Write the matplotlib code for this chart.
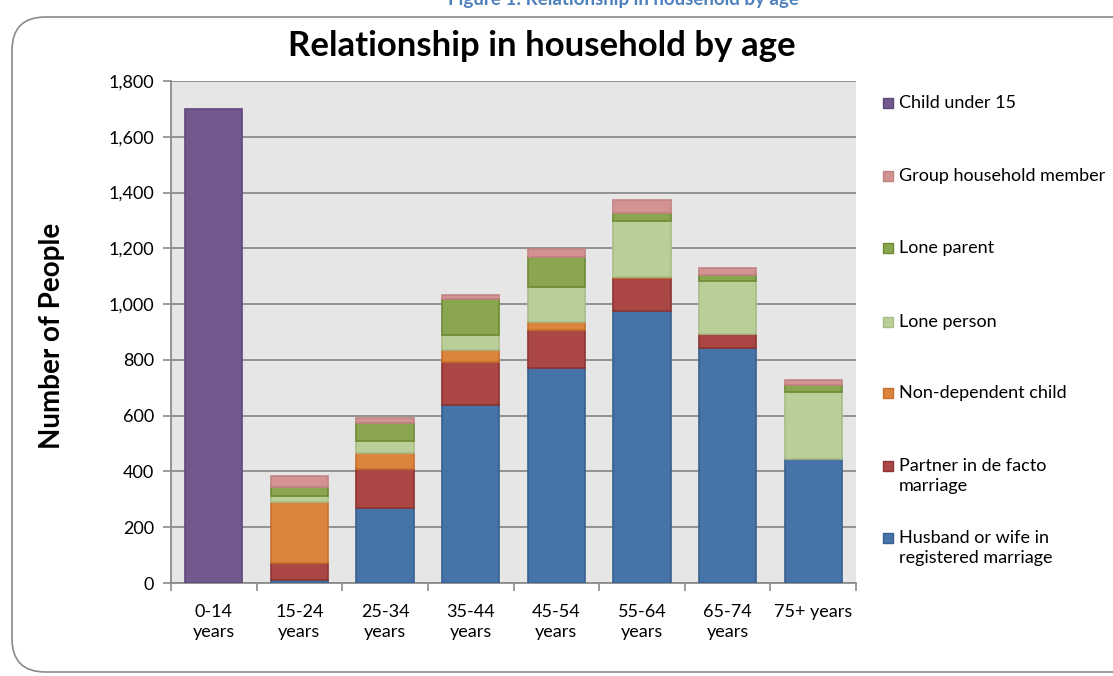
import numpy as np
import matplotlib.pyplot as plt
from matplotlib.patches import FancyBboxPatch, Rectangle

# data
ages = ['0-14\nyears', '15-24\nyears', '25-34\nyears', '35-44\nyears', '45-54\nyears',
        '55-64\nyears', '65-74\nyears', '75+ years']

husband_wife = [0, 10, 268, 640, 770, 974, 844, 443]
partner_defacto = [0, 60, 139, 152, 136, 118, 48, 3]
non_dependent = [0, 220, 60, 42, 30, 5, 0, 0]
lone_person = [0, 22, 43, 54, 124, 201, 190, 239]
lone_parent = [0, 32, 65, 130, 108, 28, 21, 24]
group_member = [0, 39, 18, 13, 30, 49, 25, 18]
child_under15 = [1700, 0, 0, 0, 0, 0, 0, 0]

series = [husband_wife, partner_defacto, non_dependent, lone_person,
          lone_parent, group_member, child_under15]
names = ['Husband or wife in\nregistered marriage', 'Partner in de facto\nmarriage',
         'Non-dependent child', 'Lone person', 'Lone parent',
         'Group household member', 'Child under 15']
fills = ['#4673A8', '#AA4644', '#DB843D', '#BACE97', '#8AA64E', '#D39393', '#71588F']
edges = ['#38608F', '#8C3432', '#C8702C', '#A9BC88', '#6E8A36', '#C28383', '#5E487A']

plt.rcParams['font.family'] = ['Lato', 'DejaVu Sans']

fig = plt.figure(figsize=(11.13, 6.76), dpi=100)
W, H = 1113.0, 676.0

# outer rounded frame, runs off the right edge like the reference
frame = FancyBboxPatch((12 / W, 4 / H), 1140 / W, 655 / H,
                       boxstyle='round,pad=0,rounding_size=0.03',
                       transform=fig.transFigure, fill=False,
                       edgecolor='#8a8a8a', linewidth=1.2, mutation_aspect=W / H)
fig.patches.append(frame)

fig.text(623 / W, 1.0, 'Figure 1: Relationship in household by age', ha='center',
         va='center', fontsize=13.5, fontweight='bold', color='#4F81BD')
fig.text(542 / W, 1 - 46 / H, 'Relationship in household by age', ha='center',
         va='center', fontsize=25, fontweight='bold', color='black')

ax = fig.add_axes([171 / W, 93 / H, 685 / W, 502 / H])
ax.set_facecolor('#E6E6E6')

x = np.arange(len(ages))
bottom = np.zeros(len(ages))
for vals, fc, ec in zip(series, fills, edges):
    vals = np.array(vals, dtype=float)
    keep = vals > 0  # skip empty segments so no stray edge lines
    ax.bar(x[keep], vals[keep], 0.67, bottom=bottom[keep], color=fc, edgecolor=ec,
           linewidth=1.2, zorder=3)
    bottom = bottom + vals

ax.set_xlim(-0.5, len(ages) - 0.5)
ax.set_ylim(0, 1800)
ax.set_yticks(np.arange(0, 1801, 200))
ax.set_yticklabels(['{:,}'.format(v) for v in range(0, 1801, 200)])
ax.yaxis.grid(True, color='#8c8c8c', linewidth=1.3, zorder=0)
ax.set_axisbelow(True)

ax.set_xticks(x)
ax.set_xticklabels(ages, linespacing=1.3)
ax.set_xticks(np.arange(-0.5, len(ages)), minor=True)
ax.tick_params(axis='x', which='major', length=0, pad=15, labelsize=13)
ax.tick_params(axis='x', which='minor', length=6, color='#8c8c8c', width=1.2)
ax.tick_params(axis='y', length=6, color='#8c8c8c', width=1.2, pad=6, labelsize=13)
for s in ['top', 'right']:
    ax.spines[s].set_visible(False)
for s in ['left', 'bottom']:
    ax.spines[s].set_color('#8c8c8c')
    ax.spines[s].set_linewidth(1.3)

fig.text(52 / W, 1 - 336 / H, 'Number of People', rotation=90, ha='center',
         va='center', fontsize=20, fontweight='bold')

# legend, top to bottom in reverse stacking order
leg_y = [103, 176, 248, 322, 393, 466, 538]
for i, k in enumerate(range(len(series) - 1, -1, -1)):
    yc = 1 - leg_y[i] / H
    fig.patches.append(Rectangle((883 / W, yc - 5 / H), 10 / W, 10 / H,
                                 transform=fig.transFigure, facecolor=fills[k],
                                 edgecolor=edges[k], linewidth=1))
    fig.text(899 / W, yc + 8 / H, names[k], ha='left', va='top', fontsize=13,
             linespacing=1.3)

fig.savefig('out.png', dpi=100)
